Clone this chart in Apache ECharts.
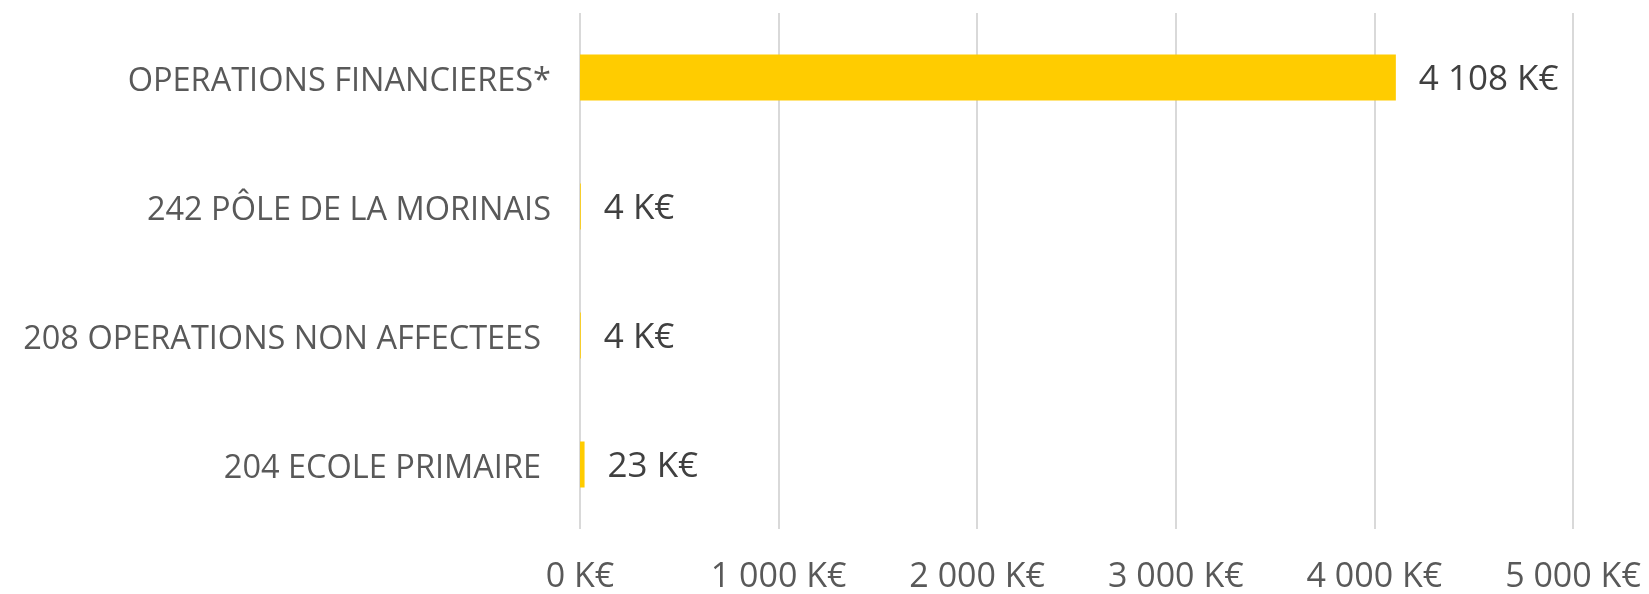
<!DOCTYPE html>
<html>
<head>
<meta charset="utf-8">
<script src="https://cdn.jsdelivr.net/npm/echarts@6/dist/echarts.min.js"></script>
<style>
  html, body { margin: 0; padding: 0; background: #fff; }
  #chart { width: 1649px; height: 594px; }
</style>
</head>
<body>
<div id="chart"></div>
<script>
const categories = [
  'OPERATIONS FINANCIERES*',
  '242 PÔLE DE LA MORINAIS',
  '208 OPERATIONS NON AFFECTEES',
  '204 ECOLE PRIMAIRE'
]
const values = [4108, 4, 4, 23]
// small extra gap at the right of some category labels
const labelGap = [0, 0, 10, 10]

const fmt = (v) => String(v).replace(/\B(?=(\d{3})+(?!\d))/g, ' ') + ' K€'

const chart = echarts.init(document.getElementById('chart'))

chart.setOption({
  animation: false,
  grid: { left: 580, right: 76, top: 13, bottom: 56, containLabel: false },
  xAxis: {
    type: 'value',
    min: 0,
    max: 5000,
    interval: 1000,
    axisLine: { show: false },
    axisTick: { show: false },
    axisLabel: {
      formatter: fmt,
      color: '#595959',
      fontSize: 34,
      fontFamily: 'Open Sans',
      margin: 31
    },
    splitLine: { lineStyle: { color: '#d9d9d9', width: 2 } }
  },
  yAxis: {
    type: 'category',
    inverse: true,
    data: categories,
    axisLine: { show: false },
    axisTick: { show: false },
    axisLabel: {
      color: '#595959',
      fontSize: 32.5,
      fontFamily: 'Open Sans',
      margin: 29,
      formatter: (v, i) => (labelGap[i] ? '{b|' : '{a|') + v + '}',
      rich: {
        a: { padding: [8, 0, 0, 0] },
        b: { padding: [8, 10, 0, 0] }
      }
    }
  },
  series: [{
    type: 'bar',
    data: values,
    barWidth: 46,
    itemStyle: { color: '#FFCC00' },
    label: {
      show: true,
      position: 'right',
      distance: 23,
      offset: [0, 3],
      formatter: (p) => fmt(p.value),
      color: '#404040',
      fontSize: 35,
      fontFamily: 'Open Sans'
    }
  }]
})
</script>
</body>
</html>
